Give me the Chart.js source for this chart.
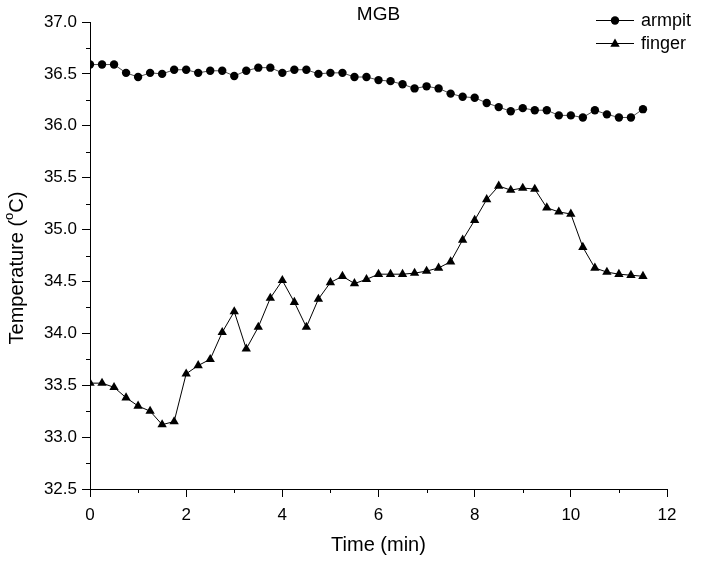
<!DOCTYPE html>
<html>
<head>
<meta charset="utf-8">
<script src="https://cdn.jsdelivr.net/npm/chart.js@4/dist/chart.umd.min.js"></script>
<style>
  html, body { margin: 0; padding: 0; background: #fff; }
  #wrap { width: 706px; height: 563px; }
</style>
</head>
<body>
<div id="wrap"><canvas id="graph"></canvas></div>
<script>
// time in minutes, one reading every 15 s
const times = [0, 0.25, 0.5, 0.75, 1, 1.25, 1.5, 1.75, 2, 2.25, 2.5, 2.75, 3, 3.25, 3.5, 3.75,
    4, 4.25, 4.5, 4.75, 5, 5.25, 5.5, 5.75, 6, 6.25, 6.5, 6.75, 7, 7.25, 7.5, 7.75,
    8, 8.25, 8.5, 8.75, 9, 9.25, 9.5, 9.75, 10, 10.25, 10.5, 10.75, 11, 11.25, 11.5]

const armpit = [36.59, 36.59, 36.59, 36.51, 36.47, 36.51, 36.50, 36.54, 36.54, 36.51, 36.53, 36.53,
    36.48, 36.53, 36.56, 36.56, 36.51, 36.54, 36.54, 36.50, 36.51, 36.51, 36.47, 36.47,
    36.44, 36.43, 36.40, 36.36, 36.38, 36.36, 36.31, 36.28, 36.27, 36.22, 36.18, 36.14,
    36.17, 36.15, 36.15, 36.10, 36.10, 36.08, 36.15, 36.11, 36.08, 36.08, 36.16]

const finger = [33.52, 33.52, 33.48, 33.38, 33.30, 33.25, 33.12, 33.15, 33.61, 33.69, 33.75, 34.01,
    34.21, 33.85, 34.06, 34.34, 34.51, 34.30, 34.06, 34.33, 34.49, 34.55, 34.48, 34.52,
    34.57, 34.57, 34.57, 34.58, 34.60, 34.63, 34.69, 34.90, 35.09, 35.29, 35.42, 35.38,
    35.40, 35.39, 35.21, 35.17, 35.15, 34.83, 34.63, 34.59, 34.57, 34.56, 34.55]

const xMinor = [1, 3, 5, 7, 9, 11]
const yMinor = [32.75, 33.25, 33.75, 34.25, 34.75, 35.25, 35.75, 36.25, 36.75]

const FONT = "'Liberation Sans', Arial, sans-serif"

function pairs(ys) {
    return times.map((t, i) => ({ x: t, y: ys[i] }))
}

function marker(ctx, style, x, y, r) {
    ctx.beginPath()
    if (style === 'circle') {
        ctx.arc(x, y, r, 0, Math.PI * 2)
    } else {
        ctx.moveTo(x, y - r)
        ctx.lineTo(x + r * 0.866, y + r * 0.5)
        ctx.lineTo(x - r * 0.866, y + r * 0.5)
        ctx.closePath()
    }
    ctx.fill()
}

const extras = {
    id: 'extras',
    afterDraw(chart) {
        const { ctx, chartArea, scales } = chart
        ctx.save()
        ctx.strokeStyle = '#000'
        ctx.fillStyle = '#000'
        ctx.lineWidth = 1

        // minor ticks
        ctx.beginPath()
        xMinor.forEach(v => {
            const px = Math.round(scales.x.getPixelForValue(v)) + 0.5
            ctx.moveTo(px, chartArea.bottom)
            ctx.lineTo(px, chartArea.bottom + 4)
        })
        yMinor.forEach(v => {
            const py = Math.round(scales.y.getPixelForValue(v)) + 0.5
            ctx.moveTo(chartArea.left, py)
            ctx.lineTo(chartArea.left - 4, py)
        })
        ctx.stroke()

        // title
        ctx.font = '19px ' + FONT
        ctx.textAlign = 'center'
        ctx.textBaseline = 'middle'
        ctx.fillText('MGB', (chartArea.left + chartArea.right) / 2, 15)

        // legend
        const rows = [
            { label: 'armpit', style: 'circle', r: 4.2, y: 20 },
            { label: 'finger', style: 'triangle', r: 5.4, y: 43 }
        ]
        ctx.font = '18px ' + FONT
        ctx.textAlign = 'left'
        rows.forEach(row => {
            ctx.beginPath()
            ctx.moveTo(596, row.y + 0.5)
            ctx.lineTo(634, row.y + 0.5)
            ctx.stroke()
            marker(ctx, row.style, 615, row.y + (row.style === 'circle' ? 0.5 : 1), row.r)
            ctx.fillText(row.label, 641, row.y + 1)
        })

        // y axis title with superscript
        ctx.translate(17, 268)
        ctx.rotate(-Math.PI / 2)
        const big = '20px ' + FONT
        const small = '13px ' + FONT
        const parts = [['Temperature (', big, 0], ['o', small, -8], ['C)', big, 0]]
        let total = 0
        parts.forEach(p => { ctx.font = p[1]; total += ctx.measureText(p[0]).width })
        let cx = -total / 2
        ctx.textBaseline = 'middle'
        parts.forEach(p => {
            ctx.font = p[1]
            ctx.fillText(p[0], cx, p[2])
            cx += ctx.measureText(p[0]).width
        })
        ctx.restore()
    }
}

let ctx = document.getElementById('graph').getContext('2d')
new Chart(ctx, {
    type: 'line',
    data: {
        datasets: [{
            label: 'armpit',
            data: pairs(armpit),
            borderColor: '#222',
            borderWidth: 0.8,
            pointStyle: 'circle',
            pointRadius: 4.2,
            pointBackgroundColor: '#000',
            pointBorderWidth: 0
        }, {
            label: 'finger',
            data: pairs(finger),
            borderColor: '#000',
            borderWidth: 1,
            pointStyle: 'triangle',
            pointRadius: 5.4,
            pointBackgroundColor: '#000',
            pointBorderWidth: 0
        }]
    },
    options: {
        responsive: true,
        maintainAspectRatio: false,
        animation: false,
        events: [],
        layout: { padding: { top: 22, right: 39, left: 0, bottom: 0 } },
        plugins: {
            legend: { display: false },
            title: { display: false },
            tooltip: { enabled: false }
        },
        scales: {
            x: {
                type: 'linear',
                min: 0,
                max: 12,
                afterFit: s => { s.height = 74 },
                border: { color: '#000', width: 1 },
                grid: { drawOnChartArea: false, color: '#000', tickLength: 8, tickWidth: 1 },
                ticks: {
                    stepSize: 2,
                    color: '#000',
                    padding: 8,
                    font: { family: FONT, size: 17 }
                },
                title: {
                    display: true,
                    text: 'Time (min)',
                    color: '#000',
                    font: { family: FONT, size: 20 },
                    padding: { top: 0, bottom: 6 }
                }
            },
            y: {
                min: 32.5,
                max: 37,
                afterFit: s => { s.width = 90 },
                border: { color: '#000', width: 1 },
                grid: { drawOnChartArea: false, color: '#000', tickLength: 8, tickWidth: 1 },
                ticks: {
                    stepSize: 0.5,
                    color: '#000',
                    padding: 5,
                    font: { family: FONT, size: 17 },
                    callback: v => v.toFixed(1)
                }
            }
        }
    },
    plugins: [extras]
});
</script>
</body>
</html>
